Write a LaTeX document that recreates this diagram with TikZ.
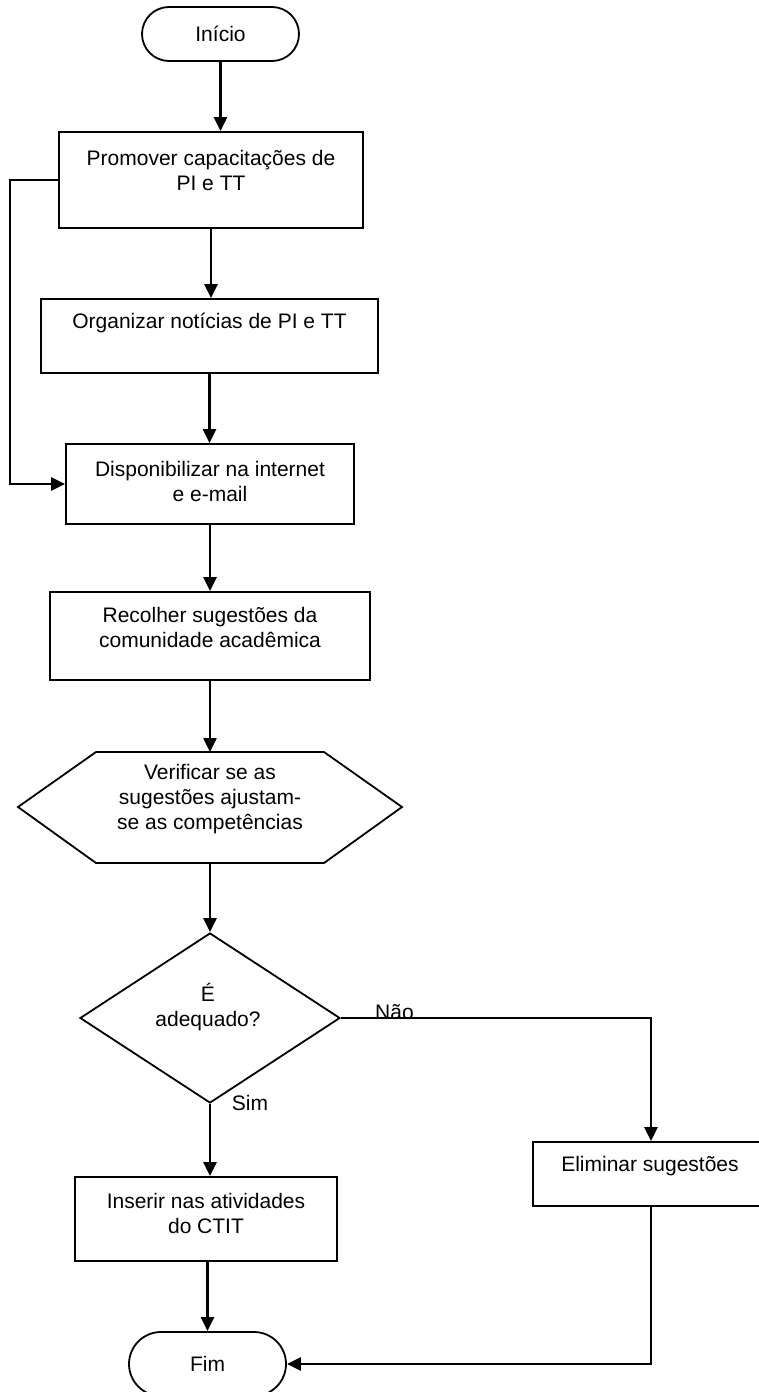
\documentclass[tikz,border=0pt]{standalone}
\usepackage{fontspec}
\setmainfont{Liberation Sans}
\usetikzlibrary{arrows.meta,shapes.misc,shapes.geometric}
\begin{document}
\begin{tikzpicture}[x=1pt,y=-1pt,
  every node/.style={font=\fontsize{21}{25}\selectfont, inner sep=0pt},
  outline/.style={draw=black, line width=1.8pt},
  procbox/.style={outline, rectangle},
  terminal/.style={outline, rounded rectangle, minimum width=157pt},
  decision/.style={outline, diamond},
  txt/.style={align=center},
  flow/.style={line width=2.5pt, -{Triangle[length=14pt,width=13pt]}}]

\useasboundingbox (0,0) rectangle (758,1392);

% start
\node[terminal, minimum height=54pt] (ini) at (220.5,34) {Início};

% process steps
\node[procbox, minimum width=304pt, minimum height=96pt] (b1) at (211,180) {};
\node[txt] (t1) at (211,170) {Promover capacitações de\\PI e TT};

\node[procbox, minimum width=337pt, minimum height=74pt] (b2) at (209.5,336) {};
\node[txt] (t2) at (209.5,323) {Organizar notícias de PI e TT};

\node[procbox, minimum width=288pt, minimum height=80pt] (b3) at (210,484) {};
\node[txt] (t3) at (210,481) {Disponibilizar na internet\\e e-mail};

\node[procbox, minimum width=320pt, minimum height=88pt] (b4) at (210,636) {};
\node[txt] (t4) at (210,627) {Recolher sugestões da\\comunidade acadêmica};

% preparation (hexagon)
\draw[outline] (18,807) -- (96,752) -- (324,752) -- (402,807) -- (324,863) -- (96,863) -- cycle;
\coordinate (hexT) at (210,752);
\coordinate (hexB) at (210,863);
\node[txt] (t5) at (210,799) {Verificar se as\\sugestões ajustam-\\se as competências};

% decision
\node[decision, minimum width=260pt, minimum height=170pt] (dia) at (210,1018) {};
\node[txt] (t6) at (208,1007) {É\\adequado?};

% outcomes
\node[procbox, minimum width=262pt, minimum height=84pt] (ins) at (206,1219) {};
\node[txt] (t7) at (206,1213) {Inserir nas atividades\\do CTIT};

\node[procbox, minimum width=236pt, minimum height=64pt] (elim) at (651,1174) {};
\node[txt] (t8) at (650,1166) {Eliminar sugestões};

% end (runs past the lower edge of the page)
\node[terminal, minimum height=64pt] (fim) at (207.5,1364) {Fim};

% connectors
\draw[flow] (ini.south) -- (ini.south |- b1.north);
\draw[flow] (b1.south) -- (b1.south |- b2.north);
\draw[flow] (b2.south) -- (b2.south |- b3.north);
\draw[flow] (b1.west) -- ++(-48,0) |- (b3.west);
\draw[flow] (b3.south) -- (b3.south |- b4.north);
\draw[flow] (b4.south) -- (hexT);
\draw[flow] (hexB) -- (dia.north);
\draw[flow] (dia.east) -| (elim.north);
\draw[flow] (dia.south) -- (dia.south |- ins.north);
\draw[flow] (fim.north |- ins.south) -- (fim.north);
\draw[flow] (elim.south) |- (fim.east);

% branch labels
\node[anchor=base west] (no) at (375,1019) {Não};
\node (yes) at (250,1103) {Sim};
\end{tikzpicture}
\end{document}
